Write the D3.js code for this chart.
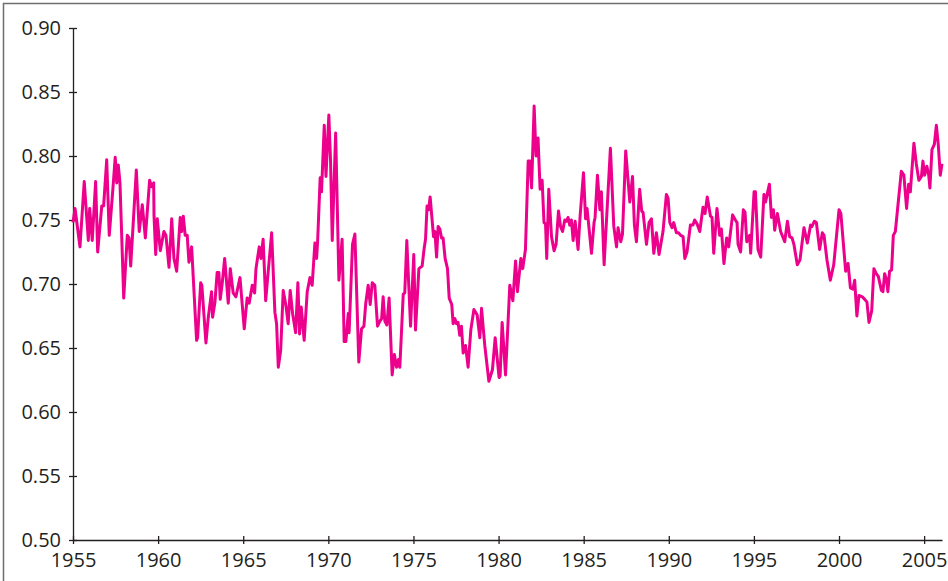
<html lang="en">
<head>
  <title>Ratio 1955-2006</title>
  <meta charset="utf-8">
  <script src="https://d3js.org/d3.v7.min.js"></script>
  <style>
    body { margin: 0; background: #fff; }
    svg { display: block; }
    .axis text { font-family: "Open Sans", sans-serif; font-size: 20px; fill: #231f20; }
    .axis path, .axis line { stroke: #231f20; stroke-width: 1.3; }
  </style>
</head>
<body>
  <svg id="chart"></svg>
</body>
<script>

// ************************************************************************************** //
// Data (decimal year, value)

var series = [
  [1955.00,0.748],[1955.12,0.759],[1955.41,0.729],[1955.66,0.780],[1955.90,0.734],[1955.98,0.759],
  [1956.13,0.734],[1956.33,0.780],[1956.45,0.725],[1956.69,0.761],[1956.80,0.761],[1956.98,0.797],
  [1957.13,0.738],[1957.33,0.772],[1957.48,0.799],[1957.57,0.779],[1957.66,0.793],[1957.76,0.779],
  [1957.98,0.689],[1958.19,0.738],[1958.29,0.736],[1958.39,0.714],[1958.72,0.789],[1958.89,0.741],
  [1959.07,0.762],[1959.25,0.736],[1959.50,0.781],[1959.62,0.776],[1959.74,0.779],[1959.76,0.753],
  [1959.86,0.723],[1959.95,0.751],[1960.13,0.726],[1960.34,0.741],[1960.46,0.738],[1960.64,0.713],
  [1960.80,0.751],[1960.93,0.720],[1961.09,0.710],[1961.30,0.752],[1961.38,0.741],[1961.48,0.753],
  [1961.59,0.738],[1961.71,0.738],[1961.81,0.717],[1961.97,0.729],[1962.26,0.656],[1962.32,0.658],
  [1962.50,0.701],[1962.57,0.699],[1962.81,0.654],[1962.94,0.673],[1963.14,0.694],[1963.20,0.674],
  [1963.34,0.686],[1963.47,0.709],[1963.57,0.709],[1963.65,0.688],[1963.77,0.701],[1963.91,0.720],
  [1964.12,0.685],[1964.24,0.712],[1964.41,0.693],[1964.57,0.690],[1964.81,0.705],[1965.06,0.665],
  [1965.23,0.689],[1965.35,0.685],[1965.53,0.699],[1965.67,0.693],[1965.75,0.712],[1965.94,0.729],
  [1966.04,0.720],[1966.17,0.735],[1966.32,0.687],[1966.47,0.710],[1966.67,0.740],[1966.86,0.678],
  [1966.96,0.669],[1967.06,0.635],[1967.20,0.648],[1967.35,0.695],[1967.51,0.683],[1967.64,0.669],
  [1967.76,0.695],[1967.90,0.677],[1968.08,0.662],[1968.21,0.701],[1968.31,0.661],[1968.41,0.682],
  [1968.58,0.656],[1968.76,0.694],[1968.92,0.705],[1969.05,0.699],[1969.21,0.732],[1969.31,0.720],
  [1969.37,0.733],[1969.52,0.783],[1969.60,0.772],[1969.76,0.824],[1969.86,0.784],[1970.03,0.832],
  [1970.13,0.796],[1970.23,0.734],[1970.43,0.818],[1970.62,0.703],[1970.81,0.735],[1970.93,0.655],
  [1971.03,0.655],[1971.17,0.677],[1971.22,0.662],[1971.42,0.731],[1971.56,0.739],[1971.79,0.639],
  [1971.95,0.665],[1972.09,0.667],[1972.20,0.685],[1972.34,0.699],[1972.46,0.684],[1972.58,0.701],
  [1972.73,0.699],[1972.89,0.667],[1973.03,0.671],[1973.13,0.673],[1973.22,0.690],[1973.32,0.671],
  [1973.44,0.668],[1973.57,0.689],[1973.75,0.629],[1973.88,0.645],[1974.01,0.635],[1974.12,0.641],
  [1974.20,0.635],[1974.40,0.692],[1974.49,0.693],[1974.61,0.734],[1974.83,0.667],[1975.02,0.723],
  [1975.12,0.664],[1975.32,0.712],[1975.51,0.714],[1975.63,0.728],[1975.71,0.735],[1975.80,0.761],
  [1975.89,0.758],[1975.98,0.768],[1976.18,0.737],[1976.26,0.741],[1976.36,0.721],[1976.45,0.745],
  [1976.55,0.743],[1976.65,0.736],[1976.74,0.736],[1976.86,0.720],[1977.00,0.712],[1977.10,0.689],
  [1977.25,0.684],[1977.33,0.669],[1977.43,0.673],[1977.53,0.669],[1977.62,0.670],[1977.72,0.660],
  [1977.82,0.667],[1977.92,0.646],[1978.06,0.652],[1978.21,0.635],[1978.37,0.664],[1978.55,0.680],
  [1978.74,0.676],[1978.90,0.658],[1979.00,0.681],[1979.19,0.652],[1979.43,0.624],[1979.64,0.633],
  [1979.80,0.658],[1980.03,0.627],[1980.09,0.628],[1980.21,0.670],[1980.41,0.629],[1980.66,0.699],
  [1980.84,0.687],[1981.00,0.718],[1981.11,0.694],[1981.31,0.720],[1981.42,0.712],[1981.58,0.727],
  [1981.74,0.796],[1981.84,0.796],[1981.94,0.775],[1982.09,0.839],[1982.20,0.800],[1982.32,0.814],
  [1982.44,0.774],[1982.56,0.781],[1982.67,0.748],[1982.76,0.747],[1982.83,0.720],[1982.95,0.774],
  [1983.11,0.737],[1983.26,0.726],[1983.38,0.731],[1983.52,0.757],[1983.64,0.745],[1983.76,0.741],
  [1983.89,0.750],[1983.99,0.749],[1984.08,0.752],[1984.18,0.746],[1984.28,0.750],[1984.38,0.734],
  [1984.50,0.749],[1984.67,0.727],[1984.79,0.753],[1984.99,0.787],[1985.11,0.751],[1985.20,0.759],
  [1985.46,0.724],[1985.61,0.748],[1985.67,0.752],[1985.81,0.785],[1985.95,0.758],[1986.04,0.772],
  [1986.20,0.715],[1986.57,0.806],[1986.77,0.745],[1986.93,0.729],[1987.02,0.744],[1987.18,0.733],
  [1987.28,0.739],[1987.47,0.804],[1987.71,0.764],[1987.87,0.784],[1987.98,0.746],[1988.10,0.733],
  [1988.29,0.774],[1988.41,0.757],[1988.49,0.756],[1988.69,0.731],[1988.84,0.748],[1988.98,0.751],
  [1989.12,0.724],[1989.27,0.740],[1989.43,0.723],[1989.66,0.741],[1989.86,0.770],[1989.96,0.767],
  [1990.06,0.748],[1990.19,0.744],[1990.29,0.748],[1990.45,0.740],[1990.57,0.740],[1990.70,0.738],
  [1990.84,0.737],[1990.94,0.720],[1991.07,0.725],[1991.27,0.746],[1991.42,0.746],[1991.52,0.750],
  [1991.66,0.747],[1991.82,0.741],[1992.01,0.760],[1992.13,0.755],[1992.26,0.768],[1992.45,0.753],
  [1992.54,0.752],[1992.64,0.724],[1992.83,0.759],[1992.99,0.738],[1993.09,0.743],[1993.24,0.716],
  [1993.40,0.736],[1993.52,0.729],[1993.75,0.754],[1993.91,0.750],[1994.01,0.748],[1994.07,0.731],
  [1994.22,0.725],[1994.38,0.758],[1994.48,0.756],[1994.58,0.733],[1994.75,0.738],[1994.81,0.724],
  [1995.01,0.772],[1995.09,0.772],[1995.24,0.727],[1995.40,0.721],[1995.59,0.770],[1995.68,0.764],
  [1995.91,0.778],[1996.03,0.752],[1996.15,0.758],[1996.22,0.742],[1996.38,0.755],[1996.57,0.741],
  [1996.81,0.733],[1996.97,0.749],[1997.10,0.737],[1997.24,0.736],[1997.35,0.731],[1997.55,0.715],
  [1997.71,0.719],[1997.94,0.744],[1998.14,0.732],[1998.33,0.746],[1998.41,0.745],[1998.55,0.749],
  [1998.67,0.748],[1998.86,0.727],[1999.02,0.740],[1999.12,0.738],[1999.29,0.719],[1999.49,0.703],
  [1999.69,0.715],[2000.00,0.758],[2000.11,0.755],[2000.39,0.710],[2000.53,0.716],[2000.67,0.697],
  [2000.82,0.696],[2000.92,0.703],[2001.05,0.675],[2001.17,0.691],[2001.37,0.690],[2001.51,0.688],
  [2001.64,0.686],[2001.76,0.670],[2001.92,0.679],[2002.05,0.712],[2002.19,0.708],[2002.31,0.706],
  [2002.49,0.695],[2002.58,0.694],[2002.68,0.708],[2002.78,0.704],[2002.87,0.694],[2002.97,0.710],
  [2003.09,0.711],[2003.19,0.738],[2003.31,0.741],[2003.66,0.788],[2003.81,0.785],[2003.97,0.759],
  [2004.09,0.778],[2004.19,0.772],[2004.40,0.810],[2004.54,0.794],[2004.69,0.781],[2004.84,0.784],
  [2004.93,0.796],[2005.03,0.785],[2005.16,0.792],[2005.27,0.785],[2005.34,0.775],[2005.46,0.805],
  [2005.60,0.809],[2005.72,0.824],[2005.83,0.809],[2005.95,0.785],[2006.05,0.794]
];

var xTicks = [1955, 1960, 1965, 1970, 1975, 1980, 1985, 1990, 1995, 2000, 2005];
var yTicks = [0.50, 0.55, 0.60, 0.65, 0.70, 0.75, 0.80, 0.85, 0.90];

// ************************************************************************************** //
// Layout

var width = 948, height = 581;
var margin = { top: 28, right: 6, bottom: 41, left: 73 };

var svg = d3.select('#chart').attr('width', width).attr('height', height);

// outer frame (only top and left edges fall inside the picture)
svg.append('rect')
  .attr('x', 3.5).attr('y', 3.5)
  .attr('width', width + 10).attr('height', height + 10)
  .attr('fill', 'none').attr('stroke', '#6e6e6e').attr('stroke-width', 1.5);

var x = d3.scaleLinear().domain([1955, 2006.05]).range([margin.left, width - margin.right]);
var y = d3.scaleLinear().domain([0.50, 0.90]).range([height - margin.bottom, margin.top]);

// ************************************************************************************** //
// Axes

var yAxis = svg.append('g').attr('class', 'axis')
  .attr('transform', 'translate(' + margin.left + ',0)')
  .call(d3.axisLeft(y).tickValues(yTicks).tickFormat(d3.format('.2f'))
    .tickSizeInner(4).tickSizeOuter(0).tickPadding(8));
yAxis.selectAll('.tick line').attr('x1', 4);

var xAxis = svg.append('g').attr('class', 'axis')
  .attr('transform', 'translate(0,' + (height - margin.bottom) + ')')
  .call(d3.axisBottom(x).tickValues(xTicks).tickFormat(d3.format('d'))
    .tickSizeInner(4).tickSizeOuter(0).tickPadding(9));
xAxis.selectAll('.tick line').attr('y1', -4);

// ************************************************************************************** //
// Line

var lineGen = d3.line().x(function(d){ return x(d[0]) }).y(function(d){ return y(d[1]) });

svg.append('path')
  .datum(series)
  .attr('d', lineGen)
  .attr('fill', 'none')
  .attr('stroke', '#ec008c')
  .attr('stroke-width', 3)
  .attr('stroke-linejoin', 'round');

</script>
</html>
